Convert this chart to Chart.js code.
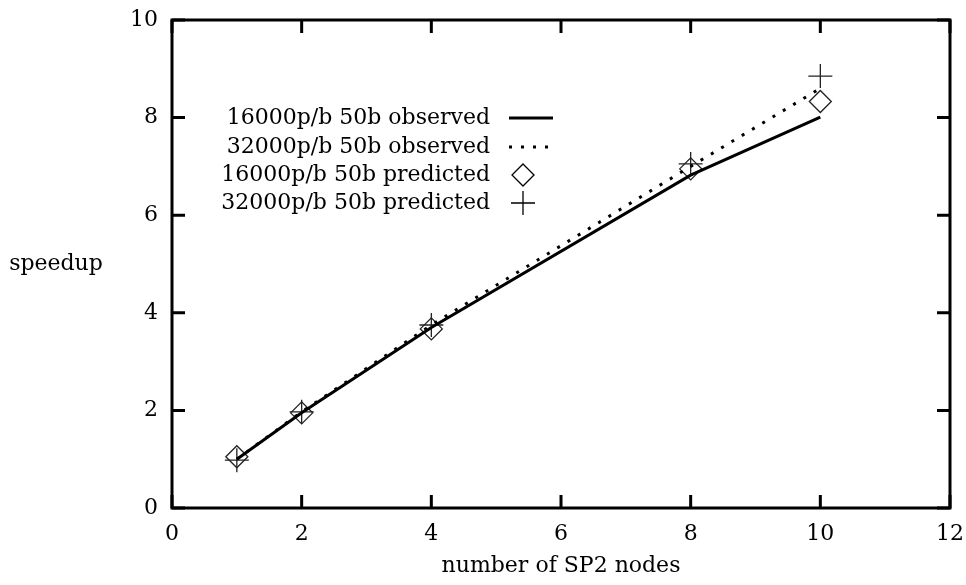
<!DOCTYPE html>
<html>
<head>
<meta charset="utf-8">
<script src="https://cdn.jsdelivr.net/npm/chart.js@4/dist/chart.umd.min.js"></script>
<style>
  html, body { margin: 0; padding: 0; background: #fff; }
  #wrap { width: 966px; height: 585px; }
</style>
</head>
<body>
<div id="wrap"><canvas id="speedChart" width="966" height="585"></canvas></div>
<script>
// data
const nodes = [1, 2, 4, 8, 10];
const obs16000 = [1.0, 1.95, 3.7, 6.82, 8.01];
const obs32000 = [1.0, 1.97, 3.75, 7.0, 8.6];
const pred16000 = [1.05, 1.95, 3.67, 6.95, 8.33];
const pred32000 = [0.98, 1.97, 3.75, 7.05, 8.85];
const xTicks = [0, 2, 4, 6, 8, 10, 12];
const yTicks = [0, 2, 4, 6, 8, 10];
const seriesNames = [
    '16000p/b 50b observed',
    '32000p/b 50b observed',
    '16000p/b 50b predicted',
    '32000p/b 50b predicted'
];

const FONT = '"DejaVu Serif", "Liberation Serif", serif';

function pts(ys) {
    return nodes.map((x, i) => ({ x: x, y: ys[i] }));
}

// box with inward ticks on all four sides, gnuplot style
const frame = {
    id: 'frame',
    afterDatasetsDraw(chart) {
        const { ctx, chartArea: a, scales } = chart;
        ctx.save();
        ctx.strokeStyle = '#000';
        ctx.lineWidth = 3;
        ctx.strokeRect(a.left, a.top, a.right - a.left, a.bottom - a.top);
        ctx.beginPath();
        xTicks.forEach(v => {
            const px = scales.x.getPixelForValue(v);
            ctx.moveTo(px, a.bottom); ctx.lineTo(px, a.bottom - 13);
            ctx.moveTo(px, a.top); ctx.lineTo(px, a.top + 13);
        });
        yTicks.forEach(v => {
            const py = scales.y.getPixelForValue(v);
            ctx.moveTo(a.left, py); ctx.lineTo(a.left + 13, py);
            ctx.moveTo(a.right, py); ctx.lineTo(a.right - 13, py);
        });
        ctx.stroke();

        // axis titles
        ctx.fillStyle = '#000';
        ctx.font = '22px ' + FONT;
        ctx.textAlign = 'center';
        ctx.textBaseline = 'middle';
        ctx.fillText('number of SP2 nodes', (a.left + a.right) / 2, 566);
        ctx.fillText('speedup', 56, 264);

        // legend inside the plot, text right aligned with sample to the right
        const textRight = 490, sx0 = 509, sx1 = 553, sxm = 523;
        const rowY = [118, 147, 175, 203];
        ctx.textAlign = 'right';
        seriesNames.forEach((name, i) => {
            const y = rowY[i];
            ctx.fillText(name, textRight, y);
            const ds = chart.data.datasets[i];
            ctx.strokeStyle = '#000';
            ctx.beginPath();
            if (i === 0) {
                ctx.lineWidth = 3;
                ctx.setLineDash([]);
                ctx.moveTo(sx0, y); ctx.lineTo(sx1, y);
                ctx.stroke();
            } else if (i === 1) {
                ctx.lineWidth = 3;
                ctx.setLineDash(ds.borderDash);
                ctx.moveTo(sx0, y); ctx.lineTo(sx1, y);
                ctx.stroke();
                ctx.setLineDash([]);
            } else if (i === 2) {
                const r = ds.pointRadius;
                ctx.lineWidth = ds.pointBorderWidth;
                ctx.moveTo(sxm, y - r); ctx.lineTo(sxm + r, y);
                ctx.lineTo(sxm, y + r); ctx.lineTo(sxm - r, y);
                ctx.closePath();
                ctx.stroke();
            } else {
                const r = ds.pointRadius;
                ctx.lineWidth = ds.pointBorderWidth;
                ctx.moveTo(sxm - r, y); ctx.lineTo(sxm + r, y);
                ctx.moveTo(sxm, y - r); ctx.lineTo(sxm, y + r);
                ctx.stroke();
            }
        });
        ctx.restore();
    }
};

new Chart(document.getElementById('speedChart'), {
    type: 'scatter',
    data: {
        datasets: [
            {
                label: seriesNames[0],
                data: pts(obs16000),
                showLine: true,
                borderColor: '#000',
                borderWidth: 3,
                pointRadius: 0
            },
            {
                label: seriesNames[1],
                data: pts(obs32000),
                showLine: true,
                borderColor: '#000',
                borderWidth: 3,
                borderDash: [3, 9],
                pointRadius: 0
            },
            {
                label: seriesNames[2],
                data: pts(pred16000),
                showLine: false,
                pointStyle: 'rectRot',
                pointRadius: 11,
                pointBorderWidth: 1.3,
                borderColor: '#000',
                pointBorderColor: '#222',
                backgroundColor: 'rgba(0,0,0,0)',
                pointBackgroundColor: 'rgba(0,0,0,0)'
            },
            {
                label: seriesNames[3],
                data: pts(pred32000),
                showLine: false,
                pointStyle: 'cross',
                pointRadius: 12,
                pointBorderWidth: 1.3,
                borderColor: '#000',
                pointBorderColor: '#222'
            }
        ]
    },
    options: {
        responsive: false,
        animation: false,
        layout: { padding: { top: 20, right: 16, left: 0, bottom: 0 } },
        plugins: {
            legend: { display: false },
            tooltip: { enabled: false }
        },
        scales: {
            x: {
                type: 'linear',
                min: 0, max: 12,
                afterBuildTicks: s => { s.ticks = xTicks.map(v => ({ value: v })); },
                afterFit: s => {
                    s.height = 77;
                    s.paddingLeft = 0;
                    s.paddingRight = 0;
                },
                grid: { display: false, drawTicks: false },
                border: { display: false },
                ticks: { color: '#000', padding: 13, font: { family: FONT, size: 22 } }
            },
            y: {
                type: 'linear',
                min: 0, max: 10,
                afterBuildTicks: s => { s.ticks = yTicks.map(v => ({ value: v })); },
                afterFit: s => {
                    s.width = 172;
                    s.paddingTop = 0;
                    s.paddingBottom = 0;
                },
                grid: { display: false, drawTicks: false },
                border: { display: false },
                ticks: { color: '#000', padding: 14, font: { family: FONT, size: 22 } }
            }
        }
    },
    plugins: [frame]
});
</script>
</body>
</html>
